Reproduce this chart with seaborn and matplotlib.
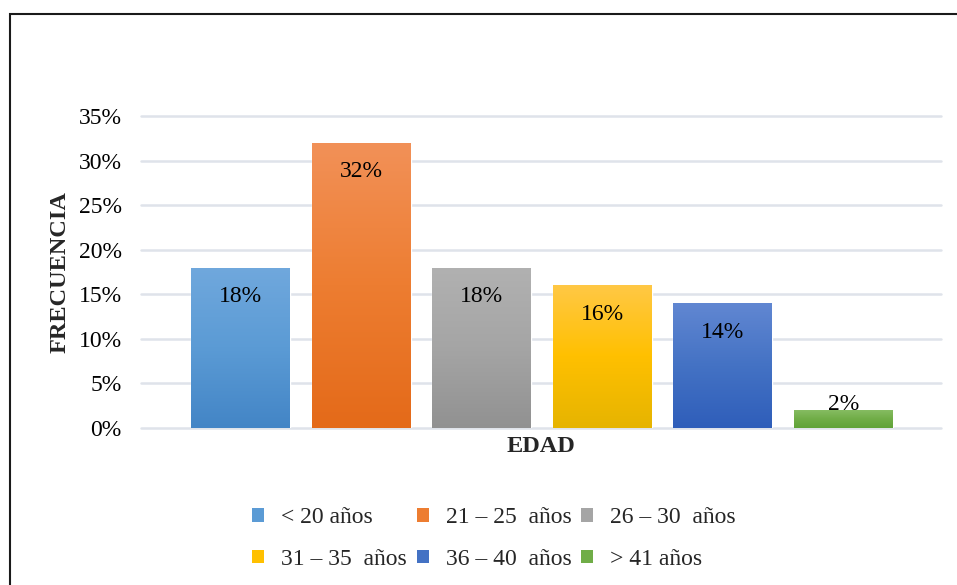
import numpy as np
import pandas as pd
import matplotlib
matplotlib.use("Agg")
import matplotlib.pyplot as plt
import seaborn as sns
from matplotlib.colors import LinearSegmentedColormap
from matplotlib.patches import Patch, Rectangle

# Age groups and their share of respondents
categories = ["< 20 años", "21 – 25  años", "26 – 30  años",
              "31 – 35  años", "36 – 40  años", "> 41 años"]
values = [0.18, 0.32, 0.18, 0.16, 0.14, 0.02]
y_ticks = [0.00, 0.05, 0.10, 0.15, 0.20, 0.25, 0.30, 0.35]

# Gradient stops per bar: top (light), middle (base), bottom (dark)
base_colors = ["#5b9bd5", "#ed7d31", "#a5a5a5", "#ffc000", "#4472c4", "#70ad47"]
top_colors = ["#70a8dd", "#f29158", "#b1b1b1", "#ffc845", "#6187d2", "#86bc62"]
bottom_colors = ["#4385c6", "#e46a19", "#919191", "#e6b400", "#2f5eba", "#60a338"]

sns.set_theme(style="white")
plt.rcParams["font.family"] = ["Liberation Serif", "DejaVu Serif"]

W, H = 957, 585
FS = 17
fig = plt.figure(figsize=(W / 100, H / 100), dpi=100)
ax = fig.add_axes([141 / W, 157 / H, 800 / W, 312 / H])

df = pd.DataFrame({"edad": categories, "frecuencia": values})
sns.barplot(data=df, x="edad", y="frecuencia", hue="edad",
            palette=base_colors, saturation=1, width=0.82,
            errorbar=None, legend=False, ax=ax, zorder=2)

# Vertical gradient fill clipped to each bar
for patch, c_top, c_mid, c_bot in zip(ax.patches, top_colors, base_colors, bottom_colors):
    x0, w, h = patch.get_x(), patch.get_width(), patch.get_height()
    cmap = LinearSegmentedColormap.from_list("g", [c_bot, c_mid, c_top])
    grad = np.linspace(0, 1, 256)[:, None]
    im = ax.imshow(grad, extent=[x0, x0 + w, 0, h], origin="lower",
                   cmap=cmap, aspect="auto", zorder=2.1, interpolation="bilinear")
    im.set_clip_path(patch)

ax.set_xlim(-0.826, 5.809)
ax.set_ylim(0, 0.35)
ax.set_yticks(y_ticks)
ax.set_yticklabels([f"{round(v * 100)}%" for v in y_ticks])
ax.set_xticks([])
ax.set_xlabel("")
ax.set_ylabel("")
ax.tick_params(axis="y", length=0, pad=14, labelsize=FS, labelcolor="#000000")
ax.yaxis.grid(True, color="#dfe3ea", linewidth=1.8)
for gl in ax.get_ygridlines():
    gl.set_clip_on(False)
ax.set_axisbelow(True)
for s in ax.spines.values():
    s.set_visible(False)

# Value labels at the inside end of each bar
for patch, v in zip(ax.patches, values):
    cx = patch.get_x() + patch.get_width() / 2
    dy = -29 if v >= 0.05 else 6
    ax.annotate(f"{round(v * 100)}%", (cx, v), xytext=(0, dy),
                textcoords="offset pixels", ha="center", va="center",
                fontsize=FS, color="#000000", zorder=5)

fig.text(541 / W, 1 - 447 / H, "EDAD", ha="center", va="center",
         fontsize=17.5, fontweight="bold")
fig.text(60 / W, 1 - 272 / H, "FRECUENCIA", ha="center", va="center",
         rotation=90, fontsize=17.5, fontweight="bold")

# Legend laid out row by row (3 columns)
handles = [Patch(facecolor=c, edgecolor="none", label=l)
           for c, l in zip(base_colors, categories)]
order = [0, 3, 1, 4, 2, 5]
fig.legend([handles[i] for i in order], [categories[i] for i in order],
           ncol=3, loc="center", bbox_to_anchor=(494 / W, 1 - 538.5 / H),
           frameon=False, fontsize=FS, handlelength=0.51, handleheight=0.51,
           handletextpad=0.72, columnspacing=0.42, labelspacing=0.87,
           borderpad=0, borderaxespad=0)

# Outer chart frame
fig.add_artist(Rectangle((10 / W, -0.05), 1.0, 1.05 - 14 / H,
                         transform=fig.transFigure, fill=False,
                         edgecolor="#1a1a1a", linewidth=1.5, clip_on=False))

fig.savefig("out.png", dpi=100, facecolor="white")
